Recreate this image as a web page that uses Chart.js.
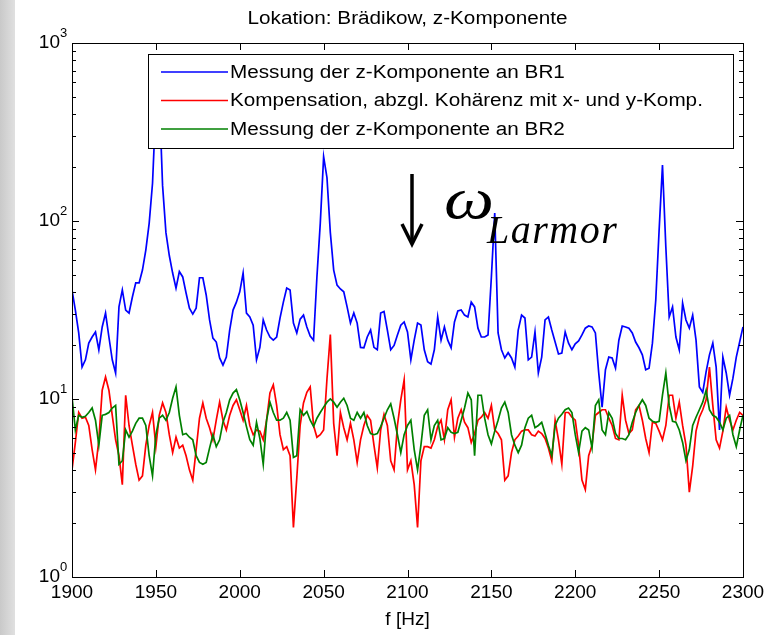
<!DOCTYPE html>
<html>
<head>
<meta charset="utf-8">
<script src="https://cdn.jsdelivr.net/npm/chart.js@4/dist/chart.umd.min.js"></script>
<style>
  html, body { margin: 0; padding: 0; background: #fff; overflow: hidden; }
  #wrap { position: relative; width: 777px; height: 635px; }
</style>
</head>
<body>
<div id="wrap"><canvas id="spectrum"></canvas></div>
<script>
// frequency grid, 2 Hz steps from 1900 to 2300 Hz
var freqHz = [];
for (var f = 1900; f <= 2300; f += 2) freqHz.push(f);

// Messung der z-Komponente an BR1 (blue)
var br1 = [
  41, 31.6, 23.5, 15.1, 16.6, 20.6, 22.3, 23.8, 18.9, 25.4,
  30.4, 22.3, 16.6, 14, 32.9, 41, 31.6, 30.4, 37.4, 44.9,
  44.9, 53, 68.7, 97, 163, 450, 520, 158, 86, 64,
  51, 42, 52, 48.5, 39.4, 32.4, 30, 32.4, 48, 48,
  38.4, 27.8, 22, 20.9, 17, 15.5, 17.2, 24.4, 31.6, 35,
  40, 51, 30.4, 28.9, 26, 16.6, 19.5, 27.8, 24.4, 22.3,
  21.4, 22.3, 28.5, 35, 42, 41, 26.7, 23.5, 28.1, 29.6,
  25.4, 22.6, 21.4, 48.5, 97, 230, 175, 86, 53, 43.6,
  41.5, 40, 32.9, 26.7, 30.4, 26.7, 19.5, 19.4, 22.3, 24.4,
  19.5, 18.9, 30.4, 31, 24.4, 18.9, 20, 22.9, 26, 27.1,
  23.8, 16.6, 21.4, 26.7, 26, 18.9, 16.2, 15.7, 18.9, 28.9,
  21.4, 25.4, 21.4, 19.4, 27.1, 31.2, 31.6, 29.6, 28.9, 35,
  32.9, 25, 22.3, 22.3, 22.9, 48.5, 111, 23.5, 18.9, 17,
  18.2, 17, 15.1, 24.4, 29.6, 28.5, 16.6, 17.2, 23.8, 14,
  17.2, 27.8, 28.9, 24.4, 20.9, 17.9, 18.1, 23.8, 20.6, 18.9,
  20.4, 21.2, 22.9, 25, 25.7, 25.4, 23.5, 14, 9, 14.6,
  17.2, 17, 14.9, 21.4, 25.7, 25.4, 25, 23.5, 20.9, 19.4,
  17.7, 14.6, 14.9, 20.6, 36, 89, 206, 71.4, 28.9, 32.9,
  22.3, 18.9, 34.6, 27.8, 25, 29.6, 21.4, 11.7, 10.9, 14.2,
  17.7, 20.6, 15.1, 6.7, 17.2, 14, 10.5, 13.1, 17.2, 20.9,
  25.4
];

// Kompensation, abzgl. Kohärenz (red)
var kompensation = [
  4.0, 5.7, 8.4, 7.8, 7.9, 7.1, 5.2, 4.0, 5.9, 11.2,
  13.3, 11.2, 8.1, 5.9, 4.8, 3.3, 10.5, 7.1, 5.5, 4.3,
  3.5, 3.7, 5.5, 7.1, 8.4, 5.4, 8.1, 9.5, 8.4, 6.3,
  5.0, 6.1, 5.3, 5.5, 4.8, 4.0, 3.5, 5.2, 7.8, 9.5,
  7.8, 6.9, 5.9, 7.6, 9.6, 7.6, 6.7, 8.1, 9.2, 9.9,
  8.7, 7.6, 9.2, 7.1, 6.3, 6.7, 6.6, 5.9, 7.6, 10.8,
  12, 9.2, 6.3, 5.2, 5.4, 4.8, 1.9, 3.6, 7.1, 9.5,
  10.9, 11.7, 7.1, 6.1, 6.3, 6.7, 13, 23, 7.3, 4.8,
  8.4, 6.9, 5.9, 7.3, 5.9, 4.4, 5.9, 7.1, 8.1, 7.6,
  5.5, 4.1, 6.7, 8.2, 7.1, 4.5, 4.0, 7.1, 9.9, 12.8,
  4.0, 4.5, 3.3, 1.9, 4.5, 5.4, 5.4, 5.3, 5.9, 7.0,
  7.6, 5.9, 8.7, 9.9, 6.1, 7.8, 8.7, 7.4, 6.9, 5.7,
  6.4, 7.6, 7.9, 8.4, 7.8, 9.2, 6.7, 6.4, 5.9, 3.5,
  3.7, 5.0, 5.9, 6.2, 6.6, 6.7, 6.7, 6.3, 6.2, 6.6,
  6.4, 6.0, 5.3, 4.5, 7.6, 5.9, 4.3, 8.4, 8.4, 7.9,
  7.6, 5.5, 3.5, 3.1, 4.8, 5.5, 8.1, 8.4, 8.7, 8.7,
  7.8, 7.1, 6.0, 5.9, 10.5, 7.6, 6.4, 6.7, 8.7, 9.2,
  7.6, 6.0, 5.0, 7.4, 7.3, 6.6, 5.9, 7.1, 10.5, 10.5,
  7.8, 9.6, 7.1, 5.5, 3.0, 4.2, 6.6, 7.9, 8.7, 9.9,
  15.1, 9.2, 5.9, 5.3, 6.6, 9.0, 7.6, 6.7, 7.6, 8.4,
  8.1
];

// Messung der z-Komponente an BR2 (green)
var br2 = [
  10.3, 6.7, 8.1, 7.9, 8.0, 8.4, 8.9, 7.6, 5.5, 8.1,
  8.2, 8.4, 8.9, 9.2, 4.3, 4.5, 6.7, 6.1, 6.6, 7.3,
  7.8, 7.8, 7.1, 4.8, 3.7, 6.3, 7.8, 8.1, 7.6, 8.4,
  10.1, 11.7, 8.1, 6.3, 6.4, 6.1, 5.9, 4.8, 4.4, 4.3,
  4.4, 5.3, 6.3, 5.4, 5.9, 7.4, 8.4, 9.9, 10.8, 11.3,
  9.9, 8.4, 7.0, 5.9, 5.5, 7.4, 6.0, 4.3, 7.6, 9.6,
  8.4, 7.6, 7.6, 7.8, 8.4, 7.6, 4.7, 4.8, 8.7, 8.1,
  8.5, 7.6, 7.0, 7.8, 8.4, 9.0, 9.6, 10, 9.6, 9.0,
  9.6, 10.1, 9.2, 7.8, 7.6, 8.4, 7.8, 8.4, 7.1, 6.4,
  6.3, 6.4, 7.0, 7.8, 8.7, 9.4, 7.8, 6.3, 5.0, 6.3,
  7.1, 7.6, 5.2, 4.0, 5.5, 8.1, 8.7, 5.9, 7.1, 7.6,
  5.9, 6.0, 6.9, 6.5, 6.4, 6.5, 7.6, 8.9, 10.8, 9.9,
  4.8, 10.5, 10.5, 7.8, 6.3, 5.6, 6.6, 7.6, 8.9, 9.6,
  8.4, 6.3, 5.5, 5.0, 5.5, 6.9, 7.8, 8.1, 6.9, 7.1,
  7.4, 6.4, 5.5, 4.8, 7.1, 7.8, 8.2, 8.7, 8.9, 8.4,
  6.3, 5.0, 6.6, 6.9, 6.7, 5.3, 9.2, 9.9, 6.7, 6.3,
  8.4, 7.8, 6.4, 6.0, 6.0, 5.9, 6.3, 7.4, 8.4, 9.2,
  9.9, 9.2, 7.8, 7.5, 7.4, 7.5, 10.5, 14, 9.2, 7.5,
  7.4, 6.7, 5.7, 4.5, 5.2, 7.1, 7.9, 8.7, 9.6, 11.2,
  8.7, 8.1, 7.9, 7.4, 6.7, 7.8, 8.1, 6.3, 5.4, 6.7,
  8.1
];

var xTicks = [1900, 1950, 2000, 2050, 2100, 2150, 2200, 2250, 2300];
var yTicks = [1, 10, 100, 1000];
var yTickExp = ['0', '1', '2', '3'];
var yMinorSteps = [2, 3, 4, 5, 6, 7, 8, 9];

var FONT = "'Liberation Sans', Arial, sans-serif";
var SERIF = "'Liberation Serif', 'Times New Roman', serif";

function pts(vals) {
  return freqHz.map(function (f, i) { return { x: f, y: vals[i] }; });
}

// text a bit wider than the font, like the stretched original
function wideText(ctx, text, x, y, sx, align) {
  ctx.save();
  ctx.translate(x, y);
  ctx.scale(sx, 1);
  ctx.textAlign = align;
  ctx.fillText(text, 0, 0);
  ctx.restore();
}

// white page with the grey strip at the left edge
var backdrop = {
  id: 'backdrop',
  beforeDraw: function (chart) {
    var ctx = chart.ctx;
    ctx.save();
    ctx.fillStyle = '#fff';
    ctx.fillRect(0, 0, chart.width, chart.height);
    var g = ctx.createLinearGradient(0, 0, 15, 0);
    g.addColorStop(0, '#c9c9c9');
    g.addColorStop(1, '#e0e0e0');
    ctx.fillStyle = g;
    ctx.fillRect(0, 0, 15, chart.height);
    ctx.restore();
  }
};

// matlab style box, inward ticks, y labels, legend
var axesBox = {
  id: 'axesBox',
  afterDatasetsDraw: function (chart) {
    var ctx = chart.ctx, a = chart.chartArea;
    var xs = chart.scales.x, ys = chart.scales.y;
    ctx.save();
    ctx.strokeStyle = '#000';
    ctx.lineWidth = 1;
    ctx.strokeRect(Math.round(a.left) + 0.5, Math.round(a.top) + 0.5,
      Math.round(a.right - a.left), Math.round(a.bottom - a.top));

    ctx.beginPath();
    xTicks.forEach(function (v) {
      var px = Math.round(xs.getPixelForValue(v)) + 0.5;
      ctx.moveTo(px, a.bottom); ctx.lineTo(px, a.bottom - 7);
      ctx.moveTo(px, a.top); ctx.lineTo(px, a.top + 7);
    });
    yTicks.forEach(function (v, i) {
      var py = Math.round(ys.getPixelForValue(v)) + 0.5;
      ctx.moveTo(a.left, py); ctx.lineTo(a.left + 7, py);
      ctx.moveTo(a.right, py); ctx.lineTo(a.right - 7, py);
      if (i < yTicks.length - 1) {
        yMinorSteps.forEach(function (m) {
          var q = Math.round(ys.getPixelForValue(v * m)) + 0.5;
          ctx.moveTo(a.left, q); ctx.lineTo(a.left + 4, q);
          ctx.moveTo(a.right, q); ctx.lineTo(a.right - 4, q);
        });
      }
    });
    ctx.stroke();

    // y tick labels 10^n
    ctx.fillStyle = '#000';
    ctx.textBaseline = 'middle';
    yTicks.forEach(function (v, i) {
      var py = ys.getPixelForValue(v);
      ctx.font = '19px ' + FONT;
      ctx.textAlign = 'right';
      ctx.fillText('10', a.left - 12, py);
      ctx.font = '13px ' + FONT;
      ctx.textAlign = 'left';
      ctx.fillText(yTickExp[i], a.left - 12, py - 10);
    });

    // title
    ctx.font = '18px ' + FONT;
    wideText(ctx, 'Lokation: Brädikow, z-Komponente', (a.left + a.right) / 2, 19, 1.15, 'center');

    // legend box
    var lx = 148, ly = 54, lw = 585, lh = 94;
    ctx.fillStyle = '#fff';
    ctx.fillRect(lx, ly, lw, lh);
    ctx.strokeStyle = '#000';
    ctx.strokeRect(lx + 0.5, ly + 0.5, lw, lh);
    var rows = [72, 100.5, 129];
    ctx.font = '18px ' + FONT;
    chart.data.datasets.forEach(function (ds, i) {
      ctx.strokeStyle = ds.borderColor;
      ctx.lineWidth = 1.5;
      ctx.beginPath();
      ctx.moveTo(161, rows[i]); ctx.lineTo(228, rows[i]);
      ctx.stroke();
      ctx.fillStyle = '#000';
      wideText(ctx, ds.label, 230, rows[i] + 1, 1.15, 'left');
    });
    ctx.restore();
  },
  afterDraw: function (chart) {
    var ctx = chart.ctx;
    ctx.save();
    // arrow
    ctx.strokeStyle = '#000';
    ctx.lineWidth = 3.5;
    ctx.beginPath();
    ctx.moveTo(412, 174); ctx.lineTo(412, 242);
    ctx.stroke();
    ctx.lineJoin = 'miter';
    ctx.beginPath();
    ctx.moveTo(402, 224); ctx.lineTo(412, 244); ctx.lineTo(422, 224);
    ctx.stroke();
    // omega Larmor
    ctx.fillStyle = '#000';
    ctx.textBaseline = 'alphabetic';
    ctx.font = 'italic 60px ' + SERIF;
    wideText(ctx, '\u03c9', 444, 218, 1.18, 'left');
    ctx.font = 'italic 40px ' + SERIF;
    ctx.letterSpacing = '1.5px';
    ctx.textAlign = 'left';
    ctx.fillText('Larmor', 487, 243);
    ctx.restore();
  }
};

var canvasElement = document.getElementById('spectrum');
var config = {
  type: 'line',
  data: {
    datasets: [{
      label: 'Messung der z-Komponente an BR1',
      data: pts(br1),
      borderColor: '#0000ff',
      order: 3
    }, {
      label: 'Kompensation, abzgl. Kohärenz mit x- und y-Komp.',
      data: pts(kompensation),
      borderColor: '#ff0000',
      order: 2
    }, {
      label: 'Messung der z-Komponente an BR2',
      data: pts(br2),
      borderColor: '#008000',
      order: 1
    }]
  },
  options: {
    responsive: true,
    maintainAspectRatio: false,
    animation: false,
    events: [],
    datasets: {
      line: { borderWidth: 1.7, pointRadius: 0, tension: 0, fill: false }
    },
    layout: { padding: { left: 0, top: 43, right: 34, bottom: 0 } },
    plugins: {
      legend: { display: false },
      tooltip: { enabled: false }
    },
    scales: {
      x: {
        type: 'linear',
        min: 1900,
        max: 2300,
        afterBuildTicks: function (s) { s.ticks = xTicks.map(function (v) { return { value: v }; }); },
        afterFit: function (s) { s.height = 58; },
        grid: { display: false, drawTicks: false },
        border: { display: false },
        ticks: {
          color: '#000',
          padding: 4,
          maxRotation: 0,
          autoSkip: false,
          font: { family: FONT, size: 19 },
          callback: function (v) { return String(v); }
        },
        title: {
          display: true,
          text: 'f [Hz]',
          color: '#000',
          font: { family: FONT, size: 19 },
          padding: { top: 0, bottom: 4 }
        }
      },
      y: {
        type: 'logarithmic',
        min: 1,
        max: 1000,
        afterFit: function (s) { s.width = 72; },
        grid: { display: false, drawTicks: false },
        border: { display: false },
        ticks: { display: false }
      }
    }
  },
  plugins: [backdrop, axesBox]
};

var spectrumChart = new Chart(canvasElement, config);
</script>
</body>
</html>
